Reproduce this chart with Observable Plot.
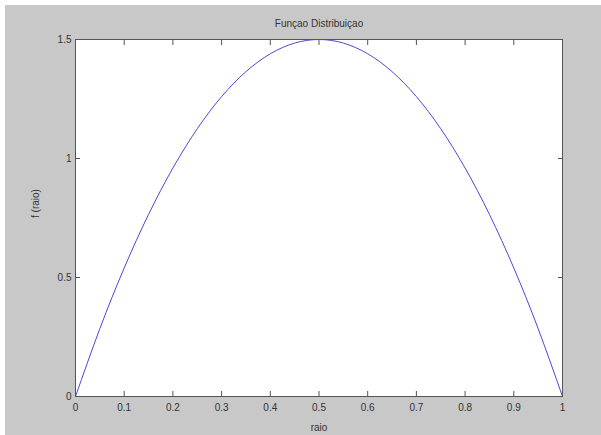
<!DOCTYPE html>
<html>
<head>
<meta charset="utf-8">
<script src="https://cdn.jsdelivr.net/npm/d3@7"></script>
<script src="https://cdn.jsdelivr.net/npm/@observablehq/plot@0.6"></script>
<style>
  html, body { margin: 0; padding: 0; background: #ffffff; }
  #wrap { position: absolute; left: 5px; top: 5px; width: 596px; height: 430px; background: #c8c8c8; }
  svg { display: block; font-family: "Liberation Sans", Arial, sans-serif; }
</style>
</head>
<body>
<div id="wrap"></div>
<script>
const title = "Funçao Distribuiçao";
const xLabel = "raio";
const yLabel = "f (raio)";
const xTicks = [0, 0.1, 0.2, 0.3, 0.4, 0.5, 0.6, 0.7, 0.8, 0.9, 1];
const yTicks = [0, 0.5, 1, 1.5];
const raio = [0, 0.05, 0.1, 0.15, 0.2, 0.25, 0.3, 0.35, 0.4, 0.45, 0.5, 0.55, 0.6, 0.65, 0.7, 0.75, 0.8, 0.85, 0.9, 0.95, 1];
const fRaio = [0, 0.285, 0.54, 0.765, 0.96, 1.125, 1.26, 1.365, 1.44, 1.485, 1.5, 1.485, 1.44, 1.365, 1.26, 1.125, 0.96, 0.765, 0.54, 0.285, 0];

const data = raio.map((r, i) => ({raio: r, f: fRaio[i]}));
const axisColor = "#555";
const textColor = "#333";

const chart = Plot.plot({
  width: 596,
  height: 430,
  marginLeft: 70,
  marginRight: 39,
  marginTop: 34,
  marginBottom: 39,
  style: {background: "transparent", fontSize: "10px", fontFamily: "'Liberation Sans', Arial, sans-serif", color: textColor},
  x: {domain: [0, 1], label: null},
  y: {domain: [0, 1.5], label: null},
  marks: [
    Plot.frame({fill: "white", stroke: null}),
    Plot.line(data, {x: "raio", y: "f", stroke: "#4a4ad6", strokeWidth: 1, curve: "natural"}),
    Plot.frame({stroke: axisColor, strokeWidth: 1}),
    Plot.axisX(xTicks, {anchor: "bottom", tickSize: -5, text: null, stroke: axisColor}),
    Plot.axisX(xTicks, {anchor: "top", tickSize: -5, text: null, stroke: axisColor}),
    Plot.axisY(yTicks, {anchor: "left", tickSize: -5, text: null, stroke: axisColor}),
    Plot.axisY(yTicks, {anchor: "right", tickSize: -5, text: null, stroke: axisColor}),
    Plot.axisX(xTicks, {anchor: "bottom", tickSize: 0, tickPadding: 7, fill: textColor, fontSize: 10, tickFormat: d => String(d)}),
    Plot.axisY(yTicks, {anchor: "left", tickSize: 0, tickPadding: 4, fill: textColor, fontSize: 10, tickFormat: d => String(d)}),
    Plot.text([title], {text: d => d, frameAnchor: "top", dy: -16, lineAnchor: "middle", fill: textColor, fontSize: 10}),
    Plot.text([xLabel], {text: d => d, frameAnchor: "bottom", dy: 31, lineAnchor: "middle", fill: textColor, fontSize: 10}),
    Plot.text([yLabel], {text: d => d, frameAnchor: "left", dx: -40, rotate: -90, lineAnchor: "middle", fill: textColor, fontSize: 10})
  ]
});
document.getElementById("wrap").appendChild(chart);
</script>
</body>
</html>
